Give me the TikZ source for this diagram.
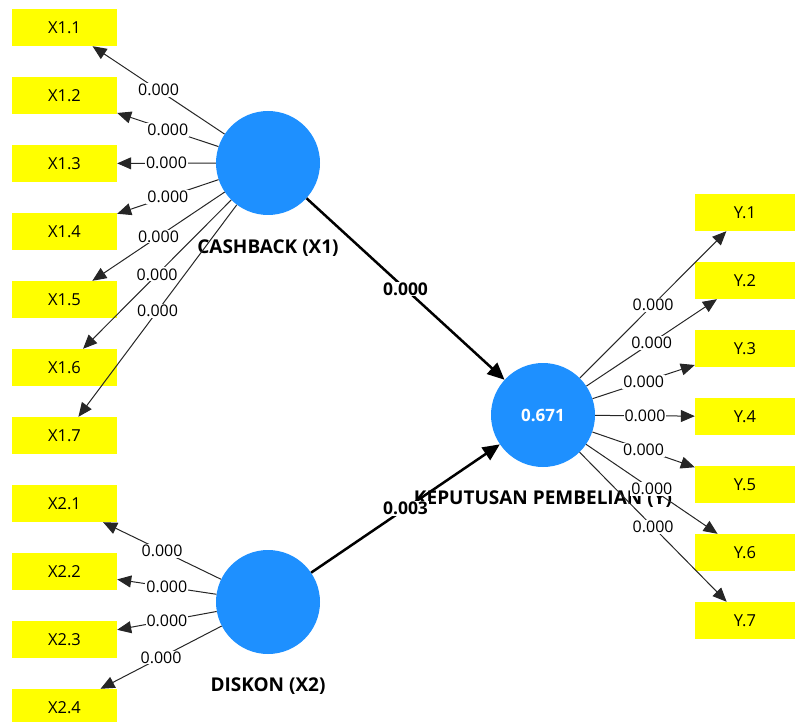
\documentclass[tikz,border=0pt]{standalone}
\usepackage{fontspec}
\setmainfont{Open Sans}
\usetikzlibrary{arrows.meta,positioning}
\definecolor{indyellow}{RGB}{255,255,0}
\definecolor{latblue}{RGB}{30,144,255}
\tikzset{
  ind/.style={fill=indyellow,minimum width=105pt,minimum height=37pt,inner sep=0pt,
    font=\fontsize{16.5}{18}\selectfont},
  indr/.style={ind,minimum width=100pt},
  lat/.style={circle,fill=latblue,minimum size=104pt,inner sep=0pt,text=white,
    font=\bfseries\fontsize{17}{19}\selectfont},
  nom/.style={font=\bfseries\fontsize{19}{21}\selectfont},
  ld/.style={-{Triangle[length=14pt,width=12pt]},line width=1pt,draw=black!85},
  pth/.style={-{Triangle[length=17pt,width=15pt]},line width=2.5pt},
  lbl/.style={font=\fontsize{16}{18}\selectfont,fill=white,inner sep=1pt},
  plbl/.style={lbl,font=\bfseries\fontsize{17.5}{19}\selectfont},
}

\begin{document}
\begin{tikzpicture}[x=1pt,y=-1pt,node distance=30.6pt]
  \useasboundingbox (0,0) rectangle (795,722);
  % indikator kiri
  \node[ind] (x11) at (64.5,27.5) {X1.1};
  \node[ind,below=of x11] (x12) {X1.2};
  \node[ind,below=of x12] (x13) {X1.3};
  \node[ind,below=of x13] (x14) {X1.4};
  \node[ind,below=of x14] (x15) {X1.5};
  \node[ind,below=of x15] (x16) {X1.6};
  \node[ind,below=of x16] (x17) {X1.7};
  \node[ind,below=of x17] (x21) {X2.1};
  \node[ind,below=of x21] (x22) {X2.2};
  \node[ind,below=of x22] (x23) {X2.3};
  \node[ind,below=of x23] (x24) {X2.4};
  % indikator kanan
  \node[indr] (y1) at (745,212.5) {Y.1};
  \node[indr,below=of y1] (y2) {Y.2};
  \node[indr,below=of y2] (y3) {Y.3};
  \node[indr,below=of y3] (y4) {Y.4};
  \node[indr,below=of y4] (y5) {Y.5};
  \node[indr,below=of y5] (y6) {Y.6};
  \node[indr,below=of y6] (y7) {Y.7};
  % variabel laten
  \node[lat] (cb) at (268,163) {};
  \node[lat] (dk) at (268,602) {};
  \node[lat] (kp) at (543,415) {0.671};
  \node[nom,below=21pt of cb] (cbn) {CASHBACK (X1)};
  \node[nom,below=20pt of dk] (dkn) {DISKON (X2)};
  \node[nom,below=20pt of kp] (kpn) {KEPUTUSAN PEMBELIAN (Y)};
  % outer loadings
  \draw[ld] (cb) -- node[lbl]{0.000} (x11);
  \draw[ld] (cb) -- node[lbl]{0.000} (x12);
  \draw[ld] (cb) -- node[lbl]{0.000} (x13);
  \draw[ld] (cb) -- node[lbl]{0.000} (x14);
  \draw[ld] (cb) -- node[lbl]{0.000} (x15);
  \draw[ld] (cb) -- node[lbl]{0.000} (x16);
  \draw[ld] (cb) -- node[lbl]{0.000} (x17);
  \draw[ld] (dk) -- node[lbl]{0.000} (x21);
  \draw[ld] (dk) -- node[lbl]{0.000} (x22);
  \draw[ld] (dk) -- node[lbl]{0.000} (x23);
  \draw[ld] (dk) -- node[lbl]{0.000} (x24);
  \draw[ld] (kp) -- node[lbl]{0.000} (y1);
  \draw[ld] (kp) -- node[lbl]{0.000} (y2);
  \draw[ld] (kp) -- node[lbl]{0.000} (y3);
  \draw[ld] (kp) -- node[lbl]{0.000} (y4);
  \draw[ld] (kp) -- node[lbl]{0.000} (y5);
  \draw[ld] (kp) -- node[lbl]{0.000} (y6);
  \draw[ld] (kp) -- node[lbl]{0.000} (y7);
  % jalur struktural
  \draw[pth] (cb) -- node[plbl]{0.000} (kp);
  \draw[pth] (dk) -- node[plbl]{0.003} (kp);
\end{tikzpicture}
\end{document}
